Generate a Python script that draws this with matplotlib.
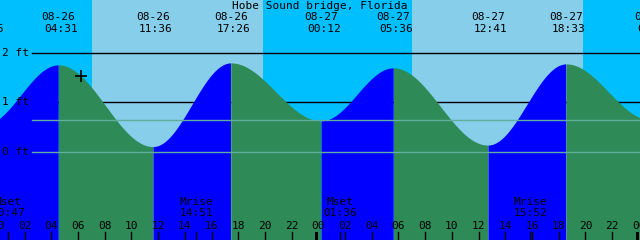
import numpy as np
import matplotlib.pyplot as plt

# ==========================================================
# Data (hours counted from 08-26 00:00)
# ==========================================================

STATION = "Hobe Sound bridge, Florida"

# high / low tide events
tide_hours = [-1.08, 4.517, 11.6, 17.433, 24.2, 29.6, 36.683, 42.55, 48.9]
tide_heights = [0.55, 1.76, 0.11, 1.80, 0.63, 1.70, 0.14, 1.78, 0.65]
tide_dates = ["08-25", "08-26", "08-26", "08-26", "08-27", "08-27", "08-27", "08-27", "08-28"]
tide_times = ["22:55", "04:31", "11:36", "17:26", "00:12", "05:36", "12:41", "18:33", "00:54"]

# sunrise / sunset
sunrise_hours = [7.02, 31.0]
sunset_hours = [19.82, 43.8]

# moon events
moon_hours = [0.783, 14.85, 25.6, 39.867]
moon_names = ["Mset", "Mrise", "Mset", "Mrise"]
moon_times = ["00:47", "14:51", "01:36", "15:52"]

hour_ticks = list(range(0, 49, 2))
hour_labels = ["%02d" % (h % 24) for h in hour_ticks]

level_lines = [2, 1]            # black reference lines
datum_lines = [0.65, 0]         # light lines drawn over water
level_labels = ["2 ft", "1 ft", "0 ft"]
level_label_values = [2, 1, 0]

now_hour = 6.22
now_height = 1.53

# ==========================================================
# Pixel layout
# ==========================================================

PX_PER_HOUR = 13.35
HOUR0 = 0.15
PX_PER_FT = 49.5
ZERO_PX = 152

def hx(px):
    return px / PX_PER_HOUR + HOUR0

def fy(py):
    return (ZERO_PX - py) / PX_PER_FT

x0, x1 = hx(0), hx(640)
y_bottom, y_top = fy(240), fy(0)

# ==========================================================
# Tide curve between extremes (half cosine per segment)
# ==========================================================

t = np.linspace(x0 - 0.1, x1 + 0.1, 2000)
h = np.zeros_like(t)
for i in range(len(tide_hours) - 1):
    a, b = tide_hours[i], tide_hours[i + 1]
    ha, hb = tide_heights[i], tide_heights[i + 1]
    m = (t >= a) & (t <= b)
    phase = (t[m] - a) / (b - a)
    h[m] = ha + (hb - ha) * (1 - np.cos(np.pi * phase)) / 2

# ==========================================================
# Plot
# ==========================================================

plt.rcParams["font.family"] = "DejaVu Sans Mono"

fig = plt.figure(figsize=(6.4, 2.4), dpi=100)
ax = fig.add_axes([0, 0, 1, 1])
ax.set_xlim(x0, x1)
ax.set_ylim(y_bottom, y_top)
ax.axis("off")

# day / night sky
ax.axvspan(x0 - 1, x1 + 1, color="#00BFFF", zorder=0)
for sr, ss in zip(sunrise_hours, sunset_hours):
    ax.axvspan(sr, ss, color="#87CEEB", zorder=0.5, lw=0)

# reference lines behind the water
for lv in level_lines:
    ax.plot([hx(32), x1], [lv, lv], color="black", lw=1, zorder=1)

# water: rising blue, falling green
for i in range(len(tide_hours) - 1):
    a, b = tide_hours[i], tide_hours[i + 1]
    m = (t >= a) & (t <= b)
    col = "#0000FF" if tide_heights[i + 1] > tide_heights[i] else "#2E8B57"
    ax.fill_between(t[m], y_bottom - 1, h[m], color=col, lw=0, zorder=2)

for lv in datum_lines:
    ax.plot([hx(32), x1], [lv, lv], color="#62AE9E", lw=1, zorder=3)

ax.plot(now_hour, now_height, marker="+", color="black", markersize=8,
        markeredgewidth=1.2, zorder=4)

# title and tide labels
ax.text(hx(320), fy(6), STATION, ha="center", va="center", fontsize=8)
for th, d, tm in zip(tide_hours, tide_dates, tide_times):
    ax.text(th, fy(17.5), d, ha="center", va="center", fontsize=8, clip_on=True)
    ax.text(th + 3 / PX_PER_HOUR, fy(29), tm, ha="center", va="center",
            fontsize=8, clip_on=True)

for lab, lv in zip(level_labels, level_label_values):
    ax.text(hx(2), lv, lab, ha="left", va="center", fontsize=8)

# moon events
for mh, name, tm in zip(moon_hours, moon_names, moon_times):
    ax.text(mh, fy(202), name, ha="center", va="center", fontsize=8, clip_on=True)
    ax.text(mh, fy(213), tm, ha="center", va="center", fontsize=8, clip_on=True)
    ax.plot([mh, mh], [fy(232), fy(241)], color="black", lw=1, zorder=4)

# hour axis
for hr, lab in zip(hour_ticks, hour_labels):
    ax.text(hr, fy(226), lab, ha="center", va="center", fontsize=8, clip_on=True)
    if hr % 24 == 0:
        ax.fill_between([hr - 3 / PX_PER_HOUR, hr], fy(232), fy(241),
                        color="black", lw=0, zorder=4)
    else:
        ax.plot([hr, hr], [fy(232), fy(241)], color="black", lw=1, zorder=4)

fig.savefig("out.png", dpi=100)
